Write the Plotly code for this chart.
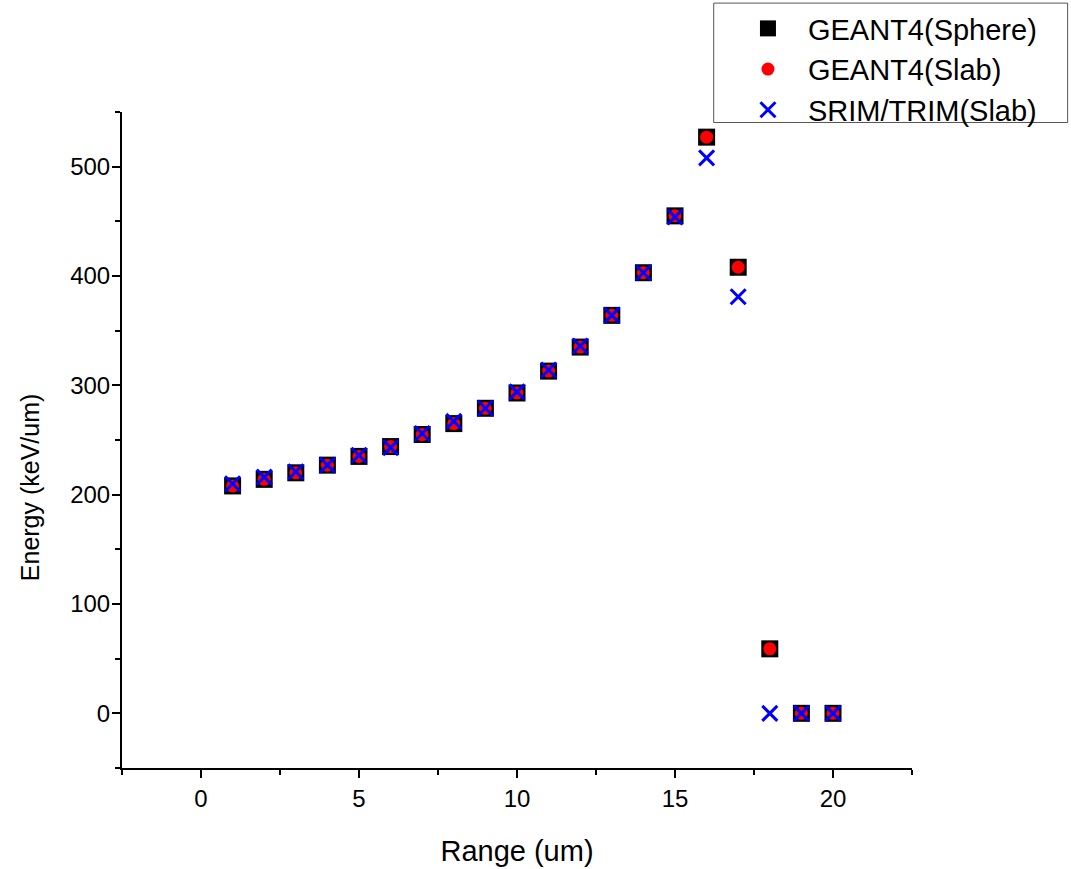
import plotly.graph_objects as go

range_um = list(range(1, 21))
geant4_sphere = [208, 214, 220, 227, 235, 244, 255, 265, 279, 293, 313, 335, 364, 403, 455, 527, 408, 59, 0, 0]
geant4_slab = [208, 214, 220, 227, 235, 244, 255, 265, 279, 293, 313, 335, 364, 403, 455, 527, 408, 59, 0, 0]
srim_trim = [210, 216, 221, 227, 236, 243, 256, 267, 279, 294, 314, 336, 364, 403, 454, 508, 381, 0, 0, 0]

FONT = "Liberation Sans, Arial, sans-serif"

fig = go.Figure()
fig.add_trace(go.Scatter(x=range_um, y=geant4_sphere, mode="markers", name="GEANT4(Sphere)",
                         marker=dict(symbol="square", size=17, color="black")))
fig.add_trace(go.Scatter(x=range_um, y=geant4_slab, mode="markers", name="GEANT4(Slab)",
                         marker=dict(symbol="circle", size=13, color="red")))
fig.add_trace(go.Scatter(x=range_um, y=srim_trim, mode="markers", name="SRIM/TRIM(Slab)",
                         marker=dict(symbol="x-thin", size=15, color="blue",
                                     line=dict(color="blue", width=3))))

tickfont = dict(family=FONT, size=24, color="black")

fig.update_xaxes(range=[-2.5, 22.5], dtick=5, tick0=0,
                 showline=True, linecolor="black", linewidth=2, ticks="outside",
                 ticklen=8, tickwidth=2, tickcolor="black", showgrid=False, zeroline=False,
                 tickfont=tickfont,
                 minor=dict(dtick=2.5, tick0=0, ticks="outside", ticklen=5, tickwidth=2, tickcolor="black"),
                 title=dict(text="Range (um)", font=dict(family=FONT, size=29, color="black"), standoff=30))
fig.update_yaxes(range=[-50, 550], dtick=100, tick0=0,
                 showline=True, linecolor="black", linewidth=2, ticks="outside",
                 ticklen=8, tickwidth=2, tickcolor="black", showgrid=False, zeroline=False,
                 tickfont=tickfont, ticklabelstandoff=-3,
                 minor=dict(dtick=50, tick0=0, ticks="outside", ticklen=5, tickwidth=2, tickcolor="black"))

fig.add_annotation(text="Energy (keV/um)", textangle=-90, xref="paper", yref="paper",
                   x=-0.1165, y=0.428, xanchor="center", yanchor="middle", showarrow=False,
                   font=dict(family=FONT, size=25, color="black"))

fig.add_shape(type="rect", xref="paper", yref="paper", x0=0.749, x1=1.197, y0=0.984, y1=1.166,
              line=dict(color="#555555", width=1), fillcolor="rgba(0,0,0,0)", layer="above")

fig.update_layout(
    width=1071, height=869,
    margin=dict(l=122, r=159, t=112, b=101, autoexpand=False),
    plot_bgcolor="white", paper_bgcolor="white",
    font=dict(family=FONT, color="black"),
    legend=dict(xref="container", yref="container", x=0.6797, y=0.9965,
                xanchor="left", yanchor="top",
                font=dict(family=FONT, size=29, color="black"),
                bgcolor="rgba(0,0,0,0)", borderwidth=0, itemwidth=70),
)

fig.write_html("out.html")
